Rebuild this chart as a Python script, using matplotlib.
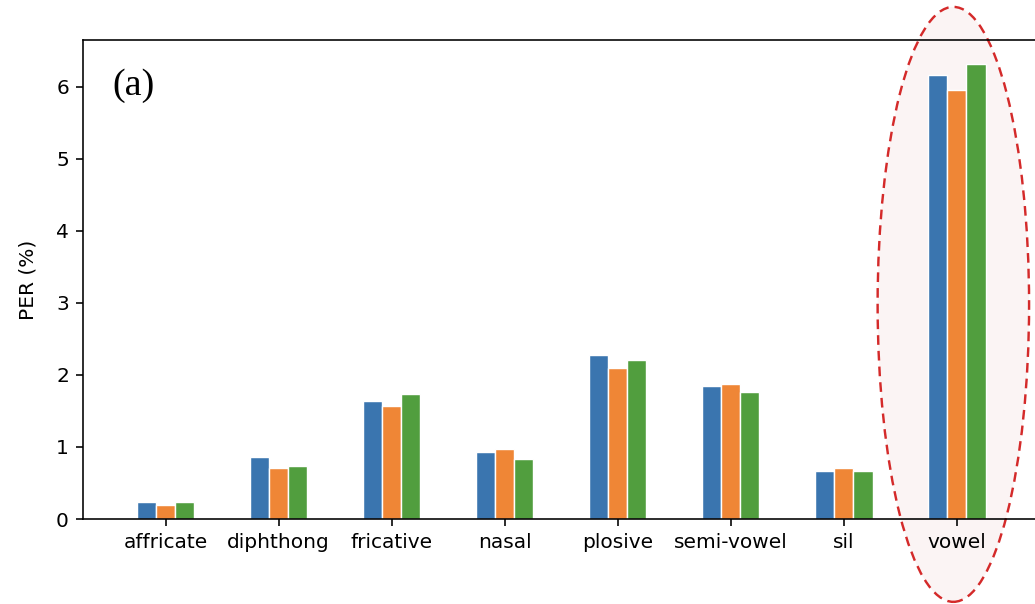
import matplotlib.pyplot as plt
from matplotlib.patches import Ellipse
import numpy as np

# Données
categories = ["affricate", "diphthong", "fricative", "nasal",
              "plosive", "semi-vowel", "sil", "vowel"]
serie_bleue = [0.24, 0.86, 1.64, 0.93, 2.28, 1.84, 0.67, 6.17]
serie_orange = [0.20, 0.71, 1.57, 0.97, 2.09, 1.87, 0.71, 5.96]
serie_verte = [0.24, 0.74, 1.73, 0.83, 2.21, 1.77, 0.67, 6.32]

couleurs = ["#3a75af", "#ef8636", "#519e3e"]

DPI = 145
fig = plt.figure(figsize=(1035 / DPI, 604 / DPI), dpi=DPI)
ax = fig.add_axes([0.0802, 0.1407, 0.925, 0.793])

x = np.arange(len(categories))
largeur = 0.17
for i, (vals, c) in enumerate(zip([serie_bleue, serie_orange, serie_verte], couleurs)):
    ax.bar(x + (i - 1) * largeur, vals, largeur, color=c,
           edgecolor="white", linewidth=0.7, zorder=2)

# ellipse de mise en évidence autour de "vowel"
ell = Ellipse((6.97, 2.98), 1.34, 8.26, facecolor="#fbf4f4",
              edgecolor="#d42a2a", linestyle=(0, (4, 2.5)), linewidth=1.2,
              clip_on=False, zorder=1)
ax.add_patch(ell)

ax.set_xlim(-0.73, 7.74)
ax.set_ylim(0, 6.65)
ax.set_xticks(x)
ax.set_xticklabels(categories, fontsize=10)
ax.set_yticks(range(7))
ax.tick_params(axis="y", labelsize=10)
ax.set_ylabel("PER (%)", fontsize=10, labelpad=9)

ax.text(0.031, 0.904, "(a)", transform=ax.transAxes, fontsize=19,
        family="Liberation Serif", ha="left", va="center")

fig.savefig("out.png", dpi=DPI)
